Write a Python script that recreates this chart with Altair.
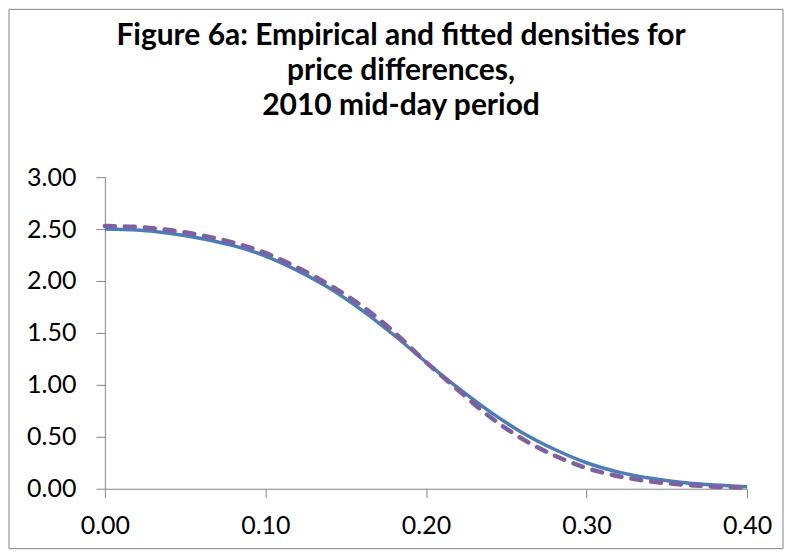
import altair as alt
import pandas as pd

# price difference grid (x axis)
x_vals = [0.00, 0.02, 0.04, 0.06, 0.08, 0.10, 0.12, 0.14, 0.16, 0.18, 0.20,
          0.22, 0.24, 0.26, 0.28, 0.30, 0.32, 0.34, 0.36, 0.38, 0.40]
# solid blue series
solid_vals = [2.50, 2.49, 2.46, 2.41, 2.34, 2.24, 2.10, 1.93, 1.72, 1.48, 1.22,
              0.97, 0.74, 0.54, 0.38, 0.25, 0.16, 0.10, 0.06, 0.035, 0.02]
# dashed purple series
dashed_vals = [2.53, 2.52, 2.49, 2.44, 2.37, 2.27, 2.13, 1.96, 1.76, 1.51, 1.22,
               0.95, 0.69, 0.48, 0.32, 0.20, 0.12, 0.07, 0.04, 0.02, 0.01]

x_ticks = [0.0, 0.1, 0.2, 0.3, 0.4]
y_ticks = [0.0, 0.5, 1.0, 1.5, 2.0, 2.5, 3.0]

title_lines = ["Figure 6a: Empirical and fitted densities for",
               "price differences,",
               "2010 mid-day period"]

df = pd.DataFrame({"x": x_vals, "solid": solid_vals, "dashed": dashed_vals})

FONT = "Lato"
AX = "#868686"

x_enc = alt.X("x:Q", scale=alt.Scale(domain=[0, 0.4], nice=False),
              axis=alt.Axis(values=x_ticks, format=".2f", title=None, grid=False,
                            tickSize=9, labelPadding=16, labelFontSize=25,
                            labelFont=FONT, labelColor="#000000",
                            domainColor=AX, tickColor=AX, labelFlush=False))

def y_enc(field):
    return alt.Y(f"{field}:Q", scale=alt.Scale(domain=[0, 3], nice=False),
                 axis=alt.Axis(values=y_ticks, format=".2f", title=None, grid=False,
                               tickSize=9, labelPadding=20, labelFontSize=25,
                               labelFont=FONT, labelColor="#000000",
                               domainColor=AX, tickColor=AX))

base = alt.Chart(df)
solid = base.mark_line(color="#4A7EBB", strokeWidth=3.5, interpolate="monotone").encode(
    x=x_enc, y=y_enc("solid"))
dashed = base.mark_line(color="#7F60A0", strokeWidth=4.5, strokeDash=[10, 10],
                        strokeCap="round", interpolate="monotone").encode(
    x=x_enc, y=y_enc("dashed"))

frame = alt.Chart(pd.DataFrame({"a": [0]})).mark_rect(
    filled=False, stroke=AX, strokeWidth=1).encode(
    x=alt.value(-96), x2=alt.value(679), y=alt.value(-168), y2=alt.value(372))

chart = alt.layer(frame, solid, dashed).properties(
    width=643, height=312, padding=0,
    title=alt.TitleParams(title_lines, font=FONT, fontSize=30, fontWeight="bold",
                          color="#000000", anchor="middle", offset=-112,
                          lineHeight=35, dx=-25),
).configure_view(stroke="transparent")

chart.save("out.html", embed_options={"renderer": "svg", "actions": False})
